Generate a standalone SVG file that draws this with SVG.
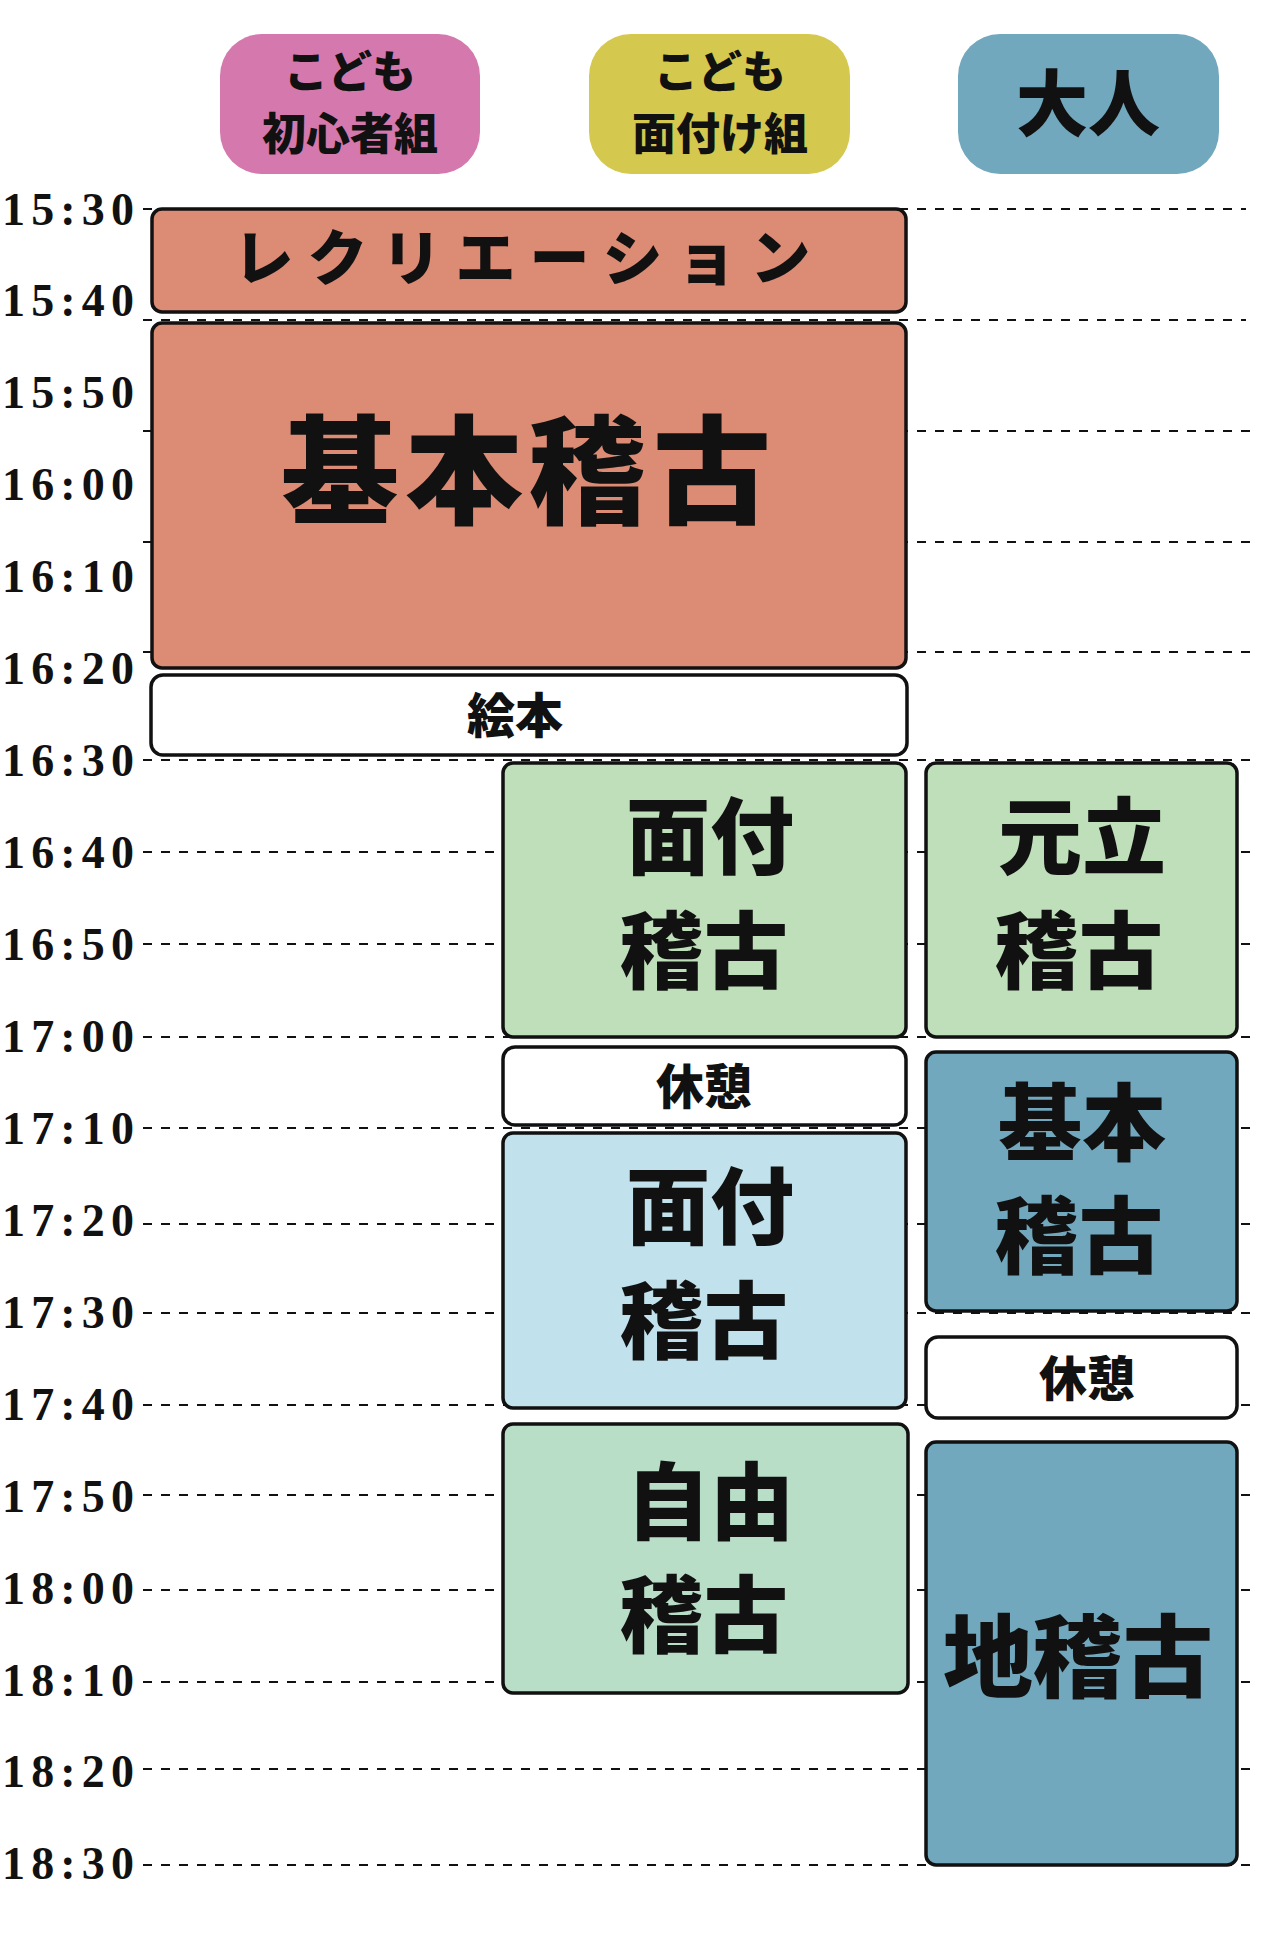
<svg xmlns="http://www.w3.org/2000/svg" width="1276" height="1935" viewBox="0 0 1276 1935">
<style>
.t{font-family:"Noto Sans CJK JP",sans-serif;font-weight:900;fill:#111;text-anchor:middle}
.tm{font-family:"Liberation Serif",serif;font-weight:bold;font-size:46px;fill:#111}
.g{stroke:#111;stroke-width:2;stroke-dasharray:9 9}
.b{stroke:#111;stroke-width:3.5}
</style>
<rect width="1276" height="1935" fill="#fff"/>
<g id="headers">
<g id="h1"><rect x="220" y="34" width="260" height="140" rx="42" fill="#D478AE"/><text class="t" x="350" y="88" font-size="44">こども</text><text class="t" x="350" y="150" font-size="44">初心者組</text></g>
<g id="h2"><rect x="589" y="34" width="261" height="140" rx="42" fill="#D4C84E"/><text class="t" x="720" y="88" font-size="44">こども</text><text class="t" x="720" y="150" font-size="44">面付け組</text></g>
<g id="h3"><rect x="958" y="34" width="261" height="140" rx="42" fill="#71A8BE"/><text class="t" x="1088" y="130" font-size="72">大人</text></g>
</g>
<g id="grid">
<g class="g">
<line x1="143" y1="209" x2="1246" y2="209"/><line x1="143" y1="320" x2="1246" y2="320"/><line x1="143" y1="431" x2="1250" y2="431"/><line x1="143" y1="542" x2="1250" y2="542"/><line x1="143" y1="652" x2="1250" y2="652"/><line x1="143" y1="760" x2="1250" y2="760"/><line x1="143" y1="852" x2="1250" y2="852"/><line x1="143" y1="944" x2="1250" y2="944"/><line x1="143" y1="1037" x2="1250" y2="1037"/><line x1="143" y1="1128" x2="1250" y2="1128"/><line x1="143" y1="1224" x2="1250" y2="1224"/><line x1="143" y1="1313" x2="1250" y2="1313"/><line x1="143" y1="1405" x2="1250" y2="1405"/><line x1="143" y1="1495" x2="1250" y2="1495"/><line x1="143" y1="1590" x2="1250" y2="1590"/><line x1="143" y1="1682" x2="1250" y2="1682"/><line x1="143" y1="1769" x2="1250" y2="1769"/><line x1="143" y1="1865" x2="1250" y2="1865"/>
</g>
<g class="tm">
<text x="2" y="225" textLength="132">15:30</text><text x="2" y="316" textLength="132">15:40</text><text x="2" y="408" textLength="132">15:50</text><text x="2" y="500" textLength="132">16:00</text><text x="2" y="592" textLength="132">16:10</text><text x="2" y="684" textLength="132">16:20</text><text x="2" y="776" textLength="132">16:30</text><text x="2" y="868" textLength="132">16:40</text><text x="2" y="960" textLength="132">16:50</text><text x="2" y="1052" textLength="132">17:00</text><text x="2" y="1144" textLength="132">17:10</text><text x="2" y="1236" textLength="132">17:20</text><text x="2" y="1328" textLength="132">17:30</text><text x="2" y="1420" textLength="132">17:40</text><text x="2" y="1512" textLength="132">17:50</text><text x="2" y="1604" textLength="132">18:00</text><text x="2" y="1696" textLength="132">18:10</text><text x="2" y="1787" textLength="132">18:20</text><text x="2" y="1879" textLength="132">18:30</text>
</g>
</g>
<g id="n1"><rect class="b" x="152" y="209" width="754" height="103" rx="10" fill="#DC8B74"/><text class="t" x="529" y="280" font-size="60" letter-spacing="14">レクリエーション</text></g>
<g id="n2"><rect class="b" x="152" y="323" width="754" height="345" rx="10" fill="#DC8B74"/><text class="t" x="529" y="515" font-size="118" letter-spacing="6">基本稽古</text></g>
<g id="n3"><rect class="b" x="151" y="675" width="756" height="80" rx="12" fill="#fff"/><text class="t" x="515" y="733" font-size="48">絵本</text></g>
<g id="n4"><rect class="b" x="503" y="763" width="403" height="274" rx="10" fill="#BEDFB9"/><text class="t" x="710" y="868" font-size="84">面付</text><text class="t" x="704" y="982" font-size="84">稽古</text></g>
<g id="n5"><rect class="b" x="926" y="763" width="311" height="274" rx="10" fill="#BEDFB9"/><text class="t" x="1082" y="868" font-size="84">元立</text><text class="t" x="1079" y="982" font-size="84">稽古</text></g>
<g id="n6"><rect class="b" x="503" y="1047" width="403" height="78" rx="12" fill="#fff"/><text class="t" x="704" y="1104" font-size="48">休憩</text></g>
<g id="n7"><rect class="b" x="503" y="1133" width="403" height="275" rx="10" fill="#C1E2EC"/><text class="t" x="710" y="1238" font-size="84">面付</text><text class="t" x="704" y="1352" font-size="84">稽古</text></g>
<g id="n8"><rect class="b" x="926" y="1052" width="311" height="259" rx="10" fill="#71A8BE"/><text class="t" x="1082" y="1154" font-size="84">基本</text><text class="t" x="1079" y="1267" font-size="84">稽古</text></g>
<g id="n9"><rect class="b" x="926" y="1337" width="311" height="81" rx="12" fill="#fff"/><text class="t" x="1087" y="1396" font-size="48">休憩</text></g>
<g id="n10"><rect class="b" x="503" y="1424" width="405" height="269" rx="10" fill="#B9DEC8"/><text class="t" x="710" y="1533" font-size="84">自由</text><text class="t" x="704" y="1646" font-size="84">稽古</text></g>
<g id="n11"><rect class="b" x="926" y="1442" width="311" height="423" rx="10" fill="#71A8BE"/><text class="t" x="1078" y="1690" font-size="90">地稽古</text></g>
</svg>
